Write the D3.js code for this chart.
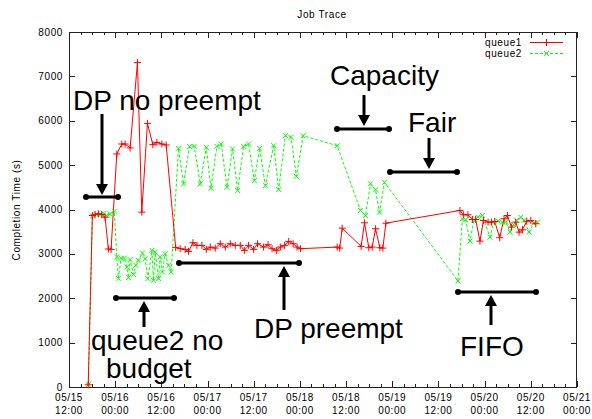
<!DOCTYPE html>
<html><head><meta charset="utf-8">
<script src="https://cdn.jsdelivr.net/npm/d3@7"></script>
<style>
html,body{margin:0;padding:0;background:#fff;}
svg{display:block;}
text{font-family:"Liberation Sans",Arial,Helvetica,sans-serif;}
text.small{letter-spacing:0.6px;}
</style></head>
<body>
<svg id="chart" width="592" height="419"></svg>
<script>
const title = "Job Trace";
const yLabel = "Completion Time (s)";
const seriesNames = ["queue1", "queue2"];
const xDomain = ["05/15 12:00", "05/21 00:00"];
const yTicks = [0, 1000, 2000, 3000, 4000, 5000, 6000, 7000, 8000];

const q1Times = ["05/15 17:00","05/15 18:04","05/15 18:46","05/15 19:38","05/15 20:31","05/15 21:22","05/15 22:14","05/15 22:56",
"05/16 00:25","05/16 01:43","05/16 02:35","05/16 03:53","05/16 05:47","05/16 06:55","05/16 08:23","05/16 09:47","05/16 10:50","05/16 12:08","05/16 13:15",
"05/16 15:43","05/16 16:53","05/16 18:11","05/16 19:03","05/16 20:12","05/16 21:14","05/16 22:32","05/16 23:40",
"05/17 00:42","05/17 02:00","05/17 03:18","05/17 04:36","05/17 05:54","05/17 07:12","05/17 08:30","05/17 09:33","05/17 10:40","05/17 11:58",
"05/17 13:00","05/17 14:34","05/17 15:43","05/17 16:46","05/17 17:53","05/17 18:55","05/17 20:02","05/17 21:05","05/17 22:14","05/17 23:16",
"05/18 00:08","05/18 09:41","05/18 10:21","05/18 10:59","05/18 15:55","05/18 16:47","05/18 17:54","05/18 18:47","05/18 19:39","05/18 20:46","05/18 21:33","05/18 22:20",
"05/19 17:35","05/19 18:28","05/19 19:40","05/19 20:49","05/19 21:40","05/19 22:47","05/19 23:41",
"05/20 00:53","05/20 01:46","05/20 02:37","05/20 03:55","05/20 05:02","05/20 05:56","05/20 06:58","05/20 08:05","05/20 08:57","05/20 09:50","05/20 10:57","05/20 12:00","05/20 13:17"];
const q1Values = [50,3865,3888,3903,3888,3827,3110,3100,
5252,5476,5476,5387,7310,3940,5940,5461,5512,5476,5454,
3146,3117,3101,3056,3252,3191,3191,3101,
3153,3130,3229,3153,3229,3191,3191,3079,3191,3101,
3229,3153,3207,3117,3079,3153,3191,3281,3229,3153,
3117,3153,3130,3580,3169,3701,3139,3153,3566,3139,3130,3692,
3978,3881,3881,3775,3775,3288,3753,
3715,3715,3730,3364,3791,3865,3602,3715,3490,3544,3737,3753,3679];

const q2Times = ["05/15 17:00","05/15 18:07","05/15 19:13","05/15 20:04","05/15 20:56","05/15 21:49","05/15 22:40","05/15 23:47",
"05/16 00:25","05/16 00:50","05/16 01:32","05/16 02:24","05/16 03:01","05/16 03:26","05/16 03:53","05/16 04:44","05/16 05:22","05/16 06:02",
"05/16 07:05","05/16 07:47","05/16 08:29","05/16 09:32","05/16 09:57","05/16 10:23","05/16 11:15","05/16 11:41","05/16 12:17","05/16 12:59","05/16 13:51","05/16 14:33",
"05/16 16:27","05/16 17:45","05/16 19:19","05/16 20:32","05/16 22:06","05/16 23:40",
"05/17 00:53","05/17 02:26","05/17 03:34","05/17 05:03","05/17 06:30","05/17 07:49","05/17 09:22","05/17 10:40","05/17 12:09","05/17 13:32","05/17 15:01",
"05/17 17:11","05/17 18:29","05/17 20:13","05/17 21:42","05/17 23:05",
"05/18 00:50","05/18 09:41","05/18 15:44","05/18 17:02","05/18 18:21","05/18 19:39","05/18 20:41","05/18 21:59",
"05/19 17:04","05/19 18:13","05/19 19:04","05/19 20:11","05/19 21:14","05/19 22:16","05/19 23:25",
"05/20 01:23","05/20 02:17","05/20 03:29","05/20 04:38","05/20 05:29","05/20 06:36","05/20 07:29","05/20 08:21","05/20 09:23","05/20 10:15","05/20 11:33","05/20 12:42","05/20 13:44"];
const q2Values = [50,3854,3888,3888,3917,3865,3903,3962,
2928,2449,2899,2906,2703,2465,2870,2539,2742,2854,
3018,2892,2443,3079,2404,3040,2443,2928,2591,3004,2742,2591,
5378,4578,5422,5422,4578,5400,
4479,5422,5476,4501,5364,4427,5422,5476,4652,5378,4539,
5438,4449,5663,5625,4748,
5663,5438,3978,3865,4578,4443,3940,4613,
2389,3791,3769,3288,3753,3827,3865,
3378,3715,3737,3715,3715,3490,3663,3753,3827,3753,3490,3692,3715];

const annoLabels = ["DP no preempt", "queue2 no", "budget", "DP preempt", "Capacity", "Fair", "FIFO"];

const parse = d3.timeParse("%m/%d %H:%M");
const svg = d3.select("#chart");
const x = d3.scaleTime().domain(xDomain.map(parse)).range([69, 577]);
const y = d3.scaleLinear().domain([0, 8000]).range([387, 32]);

const axisColor = "#222";
svg.append("text").attr("class", "small").attr("x", 322).attr("y", 18).attr("text-anchor", "middle")
  .attr("font-size", 10).attr("fill", "#000").text(title);
svg.append("text").attr("class", "small").attr("transform", "translate(20,210) rotate(-90)")
  .attr("text-anchor", "middle").attr("font-size", 10).attr("fill", "#000").text(yLabel);

const majorX = d3.timeHour.every(12).range(x.domain()[0], d3.timeHour.offset(x.domain()[1], 1));
const minorX = d3.timeHour.every(3).range(x.domain()[0], d3.timeHour.offset(x.domain()[1], 1));
const g = svg.append("g").attr("stroke", axisColor).attr("stroke-width", 1).attr("shape-rendering", "crispEdges");
minorX.forEach(t => {
  const major = t.getHours() % 12 === 0;
  const len = major ? 6 : 3;
  const px = Math.round(x(t)) + 0.5;
  g.append("line").attr("x1", px).attr("x2", px).attr("y1", 387).attr("y2", 387 - len);
  g.append("line").attr("x1", px).attr("x2", px).attr("y1", 32).attr("y2", 32 + len);
});
yTicks.forEach(v => {
  const py = Math.round(y(v)) + 0.5;
  g.append("line").attr("x1", 69).attr("x2", 75).attr("y1", py).attr("y2", py);
  g.append("line").attr("x1", 577).attr("x2", 571).attr("y1", py).attr("y2", py);
});
svg.append("rect").attr("x", 69.5).attr("y", 32.5).attr("width", 507).attr("height", 354.5)
  .attr("fill", "none").attr("stroke", axisColor).attr("shape-rendering", "crispEdges");

const fmtD = d3.timeFormat("%m/%d"), fmtT = d3.timeFormat("%H:%M");
majorX.forEach(t => {
  const tx = svg.append("text").attr("class", "small").attr("text-anchor", "middle").attr("font-size", 10).attr("fill", "#000");
  tx.append("tspan").attr("x", x(t)).attr("y", 401).text(fmtD(t));
  tx.append("tspan").attr("x", x(t)).attr("y", 414).text(fmtT(t));
});
yTicks.forEach(v => {
  svg.append("text").attr("class", "small").attr("x", 63).attr("y", y(v) + 3.5).attr("text-anchor", "end")
    .attr("font-size", 10).attr("fill", "#000").text(v);
});

const q1 = q1Times.map((t, i) => ({t: parse(t), v: q1Values[i]}));
const q2 = q2Times.map((t, i) => ({t: parse(t), v: q2Values[i]}));
const line = d3.line().x(d => x(d.t)).y(d => y(d.v));
const plot = svg.append("g");
plot.append("path").datum(q2).attr("d", line).attr("fill", "none").attr("stroke", "#00ff00")
  .attr("stroke-width", 1).attr("stroke-dasharray", "3,2");
plot.append("path").datum(q1).attr("d", line).attr("fill", "none").attr("stroke", "#ff0000").attr("stroke-width", 1);
const plus = (sel, cx, cy, s, c) => {
  sel.append("path").attr("d", `M${cx - s},${cy}H${cx + s}M${cx},${cy - s}V${cy + s}`).attr("stroke", c).attr("stroke-width", 1).attr("fill", "none");
};
const cross = (sel, cx, cy, s, c) => {
  sel.append("path").attr("d", `M${cx - s},${cy - s}L${cx + s},${cy + s}M${cx - s},${cy + s}L${cx + s},${cy - s}`).attr("stroke", c).attr("stroke-width", 1).attr("fill", "none");
};
q2.forEach(d => cross(plot, x(d.t), y(d.v), 2.5, "#00ff00"));
q1.forEach(d => plus(plot, x(d.t), y(d.v), 3.5, "#ff0000"));

svg.append("text").attr("class", "small").attr("x", 522).attr("y", 46).attr("text-anchor", "end").attr("font-size", 10).text(seriesNames[0]);
svg.append("text").attr("class", "small").attr("x", 522).attr("y", 57).attr("text-anchor", "end").attr("font-size", 10).text(seriesNames[1]);
svg.append("line").attr("x1", 530).attr("x2", 563).attr("y1", 42.5).attr("y2", 42.5).attr("stroke", "#ff0000");
plus(svg, 546.5, 42.5, 3.5, "#ff0000");
svg.append("line").attr("x1", 530).attr("x2", 563).attr("y1", 53.5).attr("y2", 53.5).attr("stroke", "#00ff00").attr("stroke-dasharray", "3,2");
cross(svg, 546.5, 53.5, 2.5, "#00ff00");

const ann = svg.append("g");
function bracket(x1, x2, yy) {
  ann.append("line").attr("x1", x1).attr("x2", x2).attr("y1", yy).attr("y2", yy).attr("stroke", "#000").attr("stroke-width", 3);
  ann.append("circle").attr("cx", x1).attr("cy", yy).attr("r", 3).attr("fill", "#000");
  ann.append("circle").attr("cx", x2).attr("cy", yy).attr("r", 3).attr("fill", "#000");
}
function arrow(ax, y0, tip) {
  const dir = tip > y0 ? 1 : -1;
  const hl = 11, hw = 6;
  ann.append("line").attr("x1", ax).attr("x2", ax).attr("y1", y0).attr("y2", tip - dir * hl).attr("stroke", "#000").attr("stroke-width", 3);
  ann.append("path").attr("d", `M${ax},${tip}L${ax - hw},${tip - dir * hl}L${ax + hw},${tip - dir * hl}Z`).attr("fill", "#000");
}
function label(txt, lx, ly) {
  ann.append("text").attr("x", lx).attr("y", ly).attr("font-size", 28).attr("fill", "#000").text(txt);
}
label(annoLabels[0], 73, 110); arrow(102, 114, 195); bracket(86, 118, 197);
label(annoLabels[1], 91, 350); label(annoLabels[2], 106, 378); arrow(144, 327, 301); bracket(116, 174, 298);
label(annoLabels[3], 254, 338); arrow(284, 310, 266); bracket(179, 299, 263);
label(annoLabels[4], 330, 85); arrow(364, 95, 126); bracket(337, 389, 129);
label(annoLabels[5], 408, 132); arrow(429, 138, 169); bracket(390, 457, 172);
label(annoLabels[6], 460, 356); arrow(491, 325, 295); bracket(458, 536, 292);
</script>
</body></html>
